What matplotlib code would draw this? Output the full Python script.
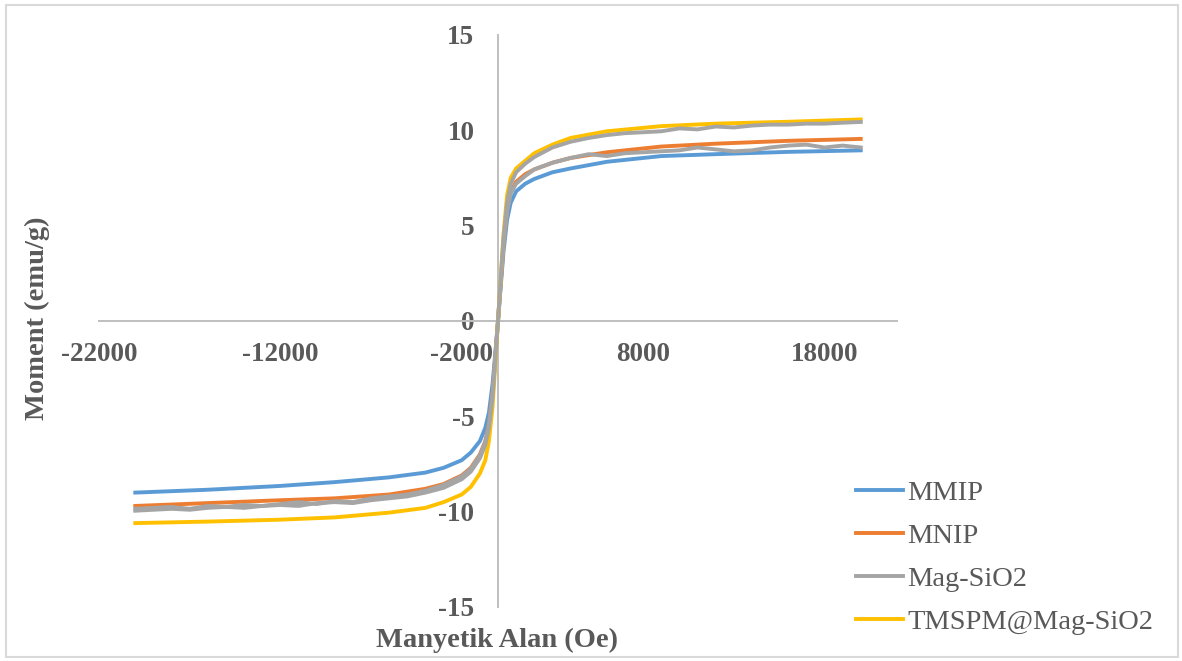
import matplotlib.pyplot as plt
from matplotlib.patches import Rectangle

plt.rcParams['axes.unicode_minus'] = False

# Field (Oe) and moment (emu/g)
H = [-20000, -16000, -12000, -9000, -6000, -4000, -3000, -2000, -1500, -1000,
     -700, -500, -300, -150, 0, 150, 300, 500, 700, 1000, 1500, 2000, 3000,
     4000, 6000, 9000, 12000, 16000, 20000]
mmip = [-9.0, -8.85, -8.65, -8.45, -8.2, -7.95, -7.7, -7.3, -6.9, -6.3,
        -5.6, -4.8, -3.3, -1.7, 0, 1.8, 3.6, 5.3, 6.2, 6.8, 7.2, 7.45, 7.8,
        8.0, 8.35, 8.65, 8.75, 8.87, 8.95]
mnip = [-9.7, -9.55, -9.4, -9.3, -9.1, -8.8, -8.55, -8.1, -7.7, -7.0,
        -6.3, -5.4, -3.8, -1.9, 0, 2.0, 4.0, 5.8, 6.8, 7.3, 7.7, 7.95, 8.3,
        8.55, 8.85, 9.15, 9.3, 9.45, 9.55]
tmspm = [-10.6, -10.52, -10.42, -10.3, -10.05, -9.8, -9.5, -9.1, -8.7, -8.0,
         -7.3, -6.3, -4.5, -2.3, 0, 2.3, 4.5, 6.6, 7.5, 8.0, 8.4, 8.8, 9.25,
         9.6, 9.95, 10.22, 10.35, 10.45, 10.57]

H_gray = [-20000, -19000, -18000, -17000, -16000, -15000, -14000, -13000,
          -12000, -11000, -10000, -9000, -8000, -7000, -6000, -5000, -4000,
          -3000, -2000, -1500, -1000, -700, -500, -300, -150, 0, 150, 300,
          500, 700, 1000, 1500, 2000, 3000, 4000, 5000, 6000, 7000, 8000,
          9000, 10000, 11000, 12000, 13000, 14000, 15000, 16000, 17000,
          18000, 19000, 20000]
mag_sio2 = [-9.85, -9.8, -9.75, -9.85, -9.7, -9.75, -9.65, -9.7, -9.6, -9.5,
            -9.6, -9.45, -9.5, -9.3, -9.2, -9.1, -8.9, -8.6, -8.15, -7.75,
            -7.05, -6.35, -5.45, -3.85, -1.9, 0, 2.0, 3.9, 5.7, 6.7, 7.2,
            7.6, 7.95, 8.3, 8.55, 8.75, 8.65, 8.8, 8.85, 8.9, 8.95, 9.1,
            9.0, 8.9, 8.95, 9.1, 9.2, 9.25, 9.1, 9.2, 9.1]
mag_sio2_b = [-9.95, -9.9, -9.85, -9.9, -9.8, -9.75, -9.8, -9.7, -9.65, -9.7,
              -9.55, -9.5, -9.55, -9.4, -9.3, -9.2, -9.0, -8.75, -8.3, -7.9,
              -7.2, -6.5, -5.6, -4.0, -2.0, 0, 2.2, 4.3, 6.2, 7.2, 7.8,
              8.25, 8.6, 9.1, 9.4, 9.6, 9.75, 9.85, 9.9, 9.95, 10.1, 10.05,
              10.2, 10.15, 10.25, 10.3, 10.3, 10.35, 10.35, 10.4, 10.44]

x_ticks = [-22000, -12000, -2000, 8000, 18000]
y_ticks = [-15, -10, -5, 0, 5, 10, 15]

txt = '#595959'
serif = 'Liberation Serif'

fig = plt.figure(figsize=(11.82, 6.61), dpi=100)
ax = fig.add_axes([99/1182, 1-607/661, 798/1182, 572/661])

lw = 2.8
ax.plot(H, mmip, color='#5b9bd5', lw=lw, label='MMIP', zorder=3)
ax.plot(H, mnip, color='#ed7d31', lw=lw, label='MNIP', zorder=3)
ax.plot(H_gray, mag_sio2, color='#a5a5a5', lw=lw, label='Mag-SiO2', zorder=4)
ax.plot(H, tmspm, color='#ffc000', lw=lw, label='TMSPM@Mag-SiO2', zorder=4)
ax.plot(H_gray, mag_sio2_b, color='#a5a5a5', lw=lw, zorder=5)

ax.set_xlim(-22000, 22000)
ax.set_ylim(-15, 15)
for s in ['top', 'right']:
    ax.spines[s].set_visible(False)
for s in ['left', 'bottom']:
    ax.spines[s].set_position(('data', 0))
    ax.spines[s].set_color('#bfbfbf')
    ax.spines[s].set_linewidth(1.4)
ax.set_xticks(x_ticks)
ax.set_yticks(y_ticks)
ax.set_xticklabels([str(v) for v in x_ticks])
ax.set_yticklabels([str(v) for v in y_ticks])
ax.tick_params(axis='x', length=0, pad=15)
ax.tick_params(axis='y', length=0, pad=17)
for lab in ax.get_xticklabels() + ax.get_yticklabels():
    lab.set_fontfamily(serif)
    lab.set_fontweight('bold')
    lab.set_fontsize(19.5)
    lab.set_color(txt)

fig.text(37/1182, 1-318/661, 'Moment (emu/g)', rotation=90, ha='center', va='center',
         fontfamily=serif, fontweight='bold', fontsize=20.5, color=txt)
fig.text(497/1182, 1-640/661, 'Manyetik Alan (Oe)', ha='center', va='center',
         fontfamily=serif, fontweight='bold', fontsize=20.5, color=txt)

leg = fig.legend(loc='upper left', bbox_to_anchor=(856/1182, 1-480/661), frameon=False,
                 handlelength=1.65, handletextpad=0.15, labelspacing=0.6, borderpad=0,
                 borderaxespad=0, prop={'family': serif, 'size': 20.5})
for t in leg.get_texts():
    t.set_color(txt)

fig.patches.append(Rectangle((6/1182, 1-657/661), 1172/1182, 652/661, transform=fig.transFigure,
                             fill=False, edgecolor='#d9d9d9', lw=1.5))

fig.savefig('out.png', dpi=100)
